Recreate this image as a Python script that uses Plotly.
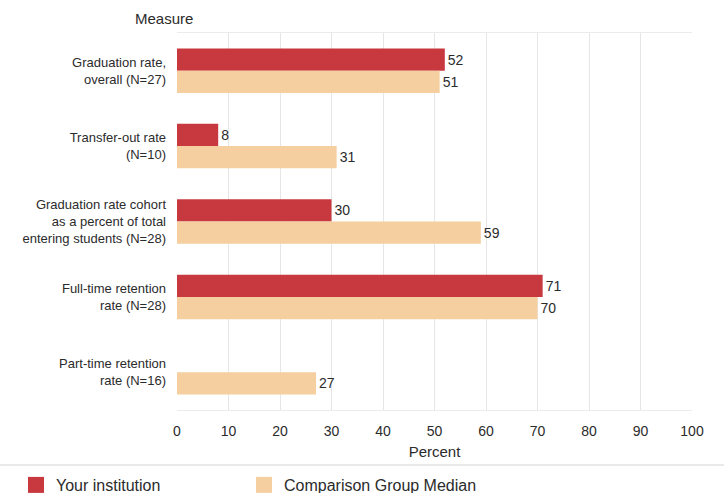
import plotly.graph_objects as go

categories = [
    "Graduation rate,<br>overall (N=27)",
    "Transfer-out rate<br>(N=10)",
    "Graduation rate cohort<br>as a percent of total<br>entering students (N=28)",
    "Full-time retention<br>rate (N=28)",
    "Part-time retention<br>rate (N=16)",
]
your_institution = [52, 8, 30, 71, None]
comparison_median = [51, 31, 59, 70, 27]
x_ticks = [0, 10, 20, 30, 40, 50, 60, 70, 80, 90, 100]

RED = "#C7383F"
TAN = "#F5CFA0"
TXT = "#2b2b2b"
FONT = "Liberation Sans, Arial, sans-serif"

W, H = 724, 493
ML, MR, MT, MB = 177, 32, 33, 83
pw, ph = W - ML - MR, H - MT - MB

fig = go.Figure()
fig.add_trace(go.Bar(
    y=categories, x=your_institution, orientation="h", name="Your institution",
    marker=dict(color=RED, line=dict(width=0)),
    text=[("" if v is None else str(v)) for v in your_institution],
    textposition="outside", textfont=dict(size=14, color=TXT, family=FONT),
    cliponaxis=False, showlegend=False,
))
fig.add_trace(go.Bar(
    y=categories, x=comparison_median, orientation="h", name="Comparison Group Median",
    marker=dict(color=TAN, line=dict(width=0)),
    text=[str(v) for v in comparison_median],
    textposition="outside", textfont=dict(size=14, color=TXT, family=FONT),
    cliponaxis=False, showlegend=False,
))
# legend-only entries with larger square swatches
fig.add_trace(go.Scatter(
    x=[None], y=[None], mode="markers", name="Your institution",
    marker=dict(symbol="square", size=16, color=RED), legend="legend",
))
fig.add_trace(go.Scatter(
    x=[None], y=[None], mode="markers", name="Comparison Group Median",
    marker=dict(symbol="square", size=16, color=TAN), legend="legend2",
))

legend_common = dict(
    orientation="h", xref="container", yref="container",
    xanchor="left", y=(H - 485) / H, yanchor="middle",
    font=dict(size=16, color=TXT, family=FONT), bgcolor="rgba(0,0,0,0)",
)

fig.update_layout(
    width=W, height=H,
    margin=dict(l=ML, r=MR, t=MT, b=MB, pad=0, autoexpand=False),
    paper_bgcolor="white", plot_bgcolor="white",
    barmode="group", bargap=0.41, bargroupgap=0,
    font=dict(family=FONT, size=13, color=TXT),
    showlegend=True,
    legend=dict(x=16 / W, **legend_common),
    legend2=dict(x=244 / W, **legend_common),
    xaxis=dict(
        range=[0, 100], tickvals=x_ticks, showgrid=True, gridcolor="#e6e6e6",
        gridwidth=1, zeroline=False, showline=True, linecolor="#ececec", mirror=True,
        ticks="", tickfont=dict(size=14, color=TXT), ticklabelstandoff=8,
        title=dict(text="Percent", font=dict(size=15, color=TXT), standoff=8),
        automargin=False,
    ),
    yaxis=dict(
        autorange="reversed", showgrid=False, zeroline=False, ticks="",
        tickfont=dict(size=13, color=TXT), ticklabelstandoff=10,
        showline=False, automargin=False,
    ),
    annotations=[dict(
        text="Measure", xref="paper", yref="paper",
        x=(164 - ML) / pw, y=(H - MB - 18) / ph, xanchor="center", yanchor="middle",
        showarrow=False, font=dict(size=15, color=TXT),
    )],
)

fig.add_shape(type="line", xref="paper", yref="paper",
              x0=-ML / pw, x1=(W - ML) / pw, y0=-(465 - (H - MB)) / ph, y1=-(465 - (H - MB)) / ph,
              line=dict(color="#e2e2e2", width=1.5))

fig.write_html(
    "out.html",
    config={"displayModeBar": False},
    post_script="document.body.style.margin='0';document.body.style.overflow='hidden';",
)
